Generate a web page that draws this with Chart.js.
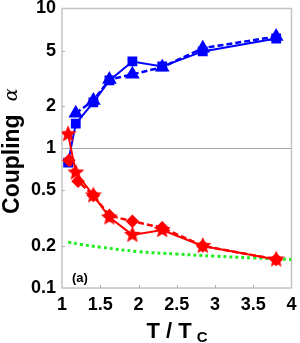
<!DOCTYPE html>
<html>
<head>
<meta charset="utf-8">
<script src="https://cdn.jsdelivr.net/npm/chart.js@4/dist/chart.umd.min.js"></script>
<style>
  html, body { margin: 0; padding: 0; background: #fff; }
  #wrap { width: 300px; height: 343px; }
</style>
</head>
<body>
<div id="wrap"><canvas id="c" width="300" height="343"></canvas></div>
<script>
// values (x = T/Tc, y = coupling)
const blueSquareX = [1.08, 1.18, 1.41, 1.62, 1.92, 2.31, 2.84, 3.80];
const blueSquareY = [0.79, 1.50, 2.13, 3.06, 4.18, 3.85, 4.93, 6.10];
const blueTriX = [1.18, 1.41, 1.62, 1.92, 2.31, 2.84, 3.80];
const blueTriY = [1.78, 2.20, 3.10, 3.38, 3.80, 5.20, 6.30];
const redStarX = [1.08, 1.18, 1.41, 1.62, 1.92, 2.31, 2.84, 3.80];
const redStarY = [1.26, 0.67, 0.46, 0.32, 0.24, 0.26, 0.20, 0.16];
const redDiamondX = [1.09, 1.21, 1.41, 1.62, 1.92, 2.31, 2.84, 3.80];
const redDiamondY = [0.82, 0.58, 0.46, 0.33, 0.30, 0.27, 0.20, 0.16];
const greenX = [1.08, 1.25, 1.5, 2.0, 2.5, 3.0, 3.5, 4.0];
const greenY = [0.213, 0.205, 0.196, 0.182, 0.175, 0.169, 0.164, 0.160];
const xTicks = [1, 1.5, 2, 2.5, 3, 3.5, 4];
const yTicks = [0.1, 0.2, 0.5, 1, 2, 5, 10];

const pts = (xs, ys) => xs.map((x, i) => ({ x: x, y: ys[i] }));

// filled five-point star used as point style
function makeStar(r, color) {
    const c = document.createElement('canvas');
    const s = Math.ceil(r * 2 + 2);
    c.width = s; c.height = s;
    const g = c.getContext('2d');
    g.fillStyle = color;
    g.beginPath();
    for (let i = 0; i < 10; i++) {
        const rr = i % 2 === 0 ? r : r * 0.45;
        const a = -Math.PI / 2 + i * Math.PI / 5;
        const px = s / 2 + rr * Math.cos(a);
        const py = s / 2 + rr * Math.sin(a);
        if (i === 0) g.moveTo(px, py); else g.lineTo(px, py);
    }
    g.closePath();
    g.fill();
    return c;
}
const starImg = makeStar(9, '#ff0000');

const framePlugin = {
    id: 'frame',
    beforeDatasetsDraw(chart) {
        const { ctx, chartArea: a, scales } = chart;
        ctx.save();
        // y = 1 reference line
        const y1 = scales.y.getPixelForValue(1);
        ctx.strokeStyle = '#a8a8a8';
        ctx.lineWidth = 1;
        ctx.beginPath();
        ctx.moveTo(a.left, Math.round(y1) + 0.5);
        ctx.lineTo(a.right, Math.round(y1) + 0.5);
        ctx.stroke();
        // box
        ctx.strokeStyle = '#c4c4c4';
        ctx.lineWidth = 1.5;
        ctx.strokeRect(a.left, a.top, a.right - a.left, a.bottom - a.top);
        // small inward ticks
        ctx.strokeStyle = '#b0b0b0';
        ctx.lineWidth = 1;
        xTicks.slice(1, -1).forEach(v => {
            const px = Math.round(scales.x.getPixelForValue(v)) + 0.5;
            ctx.beginPath();
            ctx.moveTo(px, a.bottom);
            ctx.lineTo(px, a.bottom - 3);
            ctx.stroke();
        });
        yTicks.slice(1, -1).forEach(v => {
            const py = Math.round(scales.y.getPixelForValue(v)) + 0.5;
            ctx.beginPath();
            ctx.moveTo(a.left, py);
            ctx.lineTo(a.left + 3, py);
            ctx.stroke();
        });
        ctx.restore();
    },
    afterDraw(chart) {
        const { ctx, chartArea: a } = chart;
        ctx.save();
        ctx.fillStyle = '#000';
        // panel tag
        ctx.font = 'bold 13px "Liberation Sans", Arial, sans-serif';
        ctx.textAlign = 'left';
        ctx.textBaseline = 'alphabetic';
        ctx.fillText('(a)', a.left + 10, a.bottom - 6);

        // y title: "Coupling α"
        ctx.save();
        ctx.font = 'bold 23px "Liberation Sans", Arial, sans-serif';
        const w1 = ctx.measureText('Coupling').width;
        ctx.font = 'italic 19px "DejaVu Serif", serif';
        const w2 = ctx.measureText('α').width;
        const gap = 13;
        const total = w1 + gap + w2;
        const cy = (a.top + a.bottom) / 2 + 3;
        ctx.translate(19, cy + total / 2);
        ctx.rotate(-Math.PI / 2);
        ctx.font = 'bold 23px "Liberation Sans", Arial, sans-serif';
        ctx.fillText('Coupling', 0, 0);
        ctx.font = 'italic 19px "DejaVu Serif", serif';
        ctx.fillText('α', w1 + gap, -2);
        ctx.restore();

        // x title: "T / T" with subscript C
        ctx.font = 'bold 22px "Liberation Sans", Arial, sans-serif';
        const main = 'T / T';
        const wm = ctx.measureText(main).width;
        ctx.font = 'bold 15px "Liberation Sans", Arial, sans-serif';
        const ws = ctx.measureText('C').width;
        const x0 = 177 - (wm + 5 + ws) / 2;
        ctx.font = 'bold 22px "Liberation Sans", Arial, sans-serif';
        ctx.fillText(main, x0, 338);
        ctx.font = 'bold 15px "Liberation Sans", Arial, sans-serif';
        ctx.fillText('C', x0 + wm + 5, 342);
        ctx.restore();
    }
};

const tickFont = { family: '"Liberation Sans", Arial, sans-serif', size: 18, weight: 'bold' };

new Chart(document.getElementById('c'), {
    type: 'scatter',
    data: {
        datasets: [
            {
                data: pts(redStarX, redStarY),
                showLine: true,
                borderColor: '#ff0000',
                backgroundColor: '#ff0000',
                borderWidth: 2,
                pointStyle: starImg,
                order: 0
            },
            {
                data: pts(redDiamondX, redDiamondY),
                showLine: true,
                borderColor: '#ff0000',
                backgroundColor: '#ff0000',
                borderWidth: 2.5,
                borderDash: [6, 3],
                pointStyle: 'rectRot',
                pointRadius: 5,
                order: 1
            },
            {
                data: pts(blueSquareX, blueSquareY),
                showLine: true,
                borderColor: '#0000ff',
                backgroundColor: '#0000ff',
                borderWidth: 2,
                pointStyle: 'rect',
                pointRadius: 5.5,
                order: 2
            },
            {
                data: pts(blueTriX, blueTriY),
                showLine: true,
                borderColor: '#0000ff',
                backgroundColor: '#0000ff',
                borderWidth: 2.5,
                borderDash: [6, 3],
                pointStyle: 'triangle',
                pointRadius: 6,
                order: 3
            },
            {
                data: pts(greenX, greenY),
                showLine: true,
                borderColor: '#22ee22',
                borderWidth: 3,
                borderDash: [3, 3],
                pointRadius: 0,
                tension: 0.4,
                order: 4
            }
        ]
    },
    options: {
        responsive: false,
        animation: false,
        layout: { padding: { top: 8, right: 6, left: 0, bottom: 0 } },
        scales: {
            x: {
                type: 'linear',
                min: 1,
                max: 4,
                afterBuildTicks: s => { s.ticks = xTicks.map(v => ({ value: v })); },
                afterFit: s => { s.height = 55; s.paddingLeft = 0; s.paddingRight = 0; },
                grid: { display: false, drawTicks: false },
                border: { display: false },
                ticks: {
                    padding: 6,
                    color: '#000',
                    font: tickFont,
                    maxRotation: 0,
                    callback: v => String(v)
                }
            },
            y: {
                type: 'logarithmic',
                min: 0.1,
                max: 10,
                afterBuildTicks: s => { s.ticks = yTicks.map(v => ({ value: v })); },
                afterFit: s => { s.width = 62; s.paddingTop = 0; s.paddingBottom = 0; },
                grid: { display: false, drawTicks: false },
                border: { display: false },
                ticks: {
                    padding: 6,
                    color: '#000',
                    font: tickFont,
                    callback: v => String(v)
                }
            }
        },
        plugins: {
            legend: { display: false },
            tooltip: { enabled: false }
        }
    },
    plugins: [framePlugin]
});
</script>
</body>
</html>
